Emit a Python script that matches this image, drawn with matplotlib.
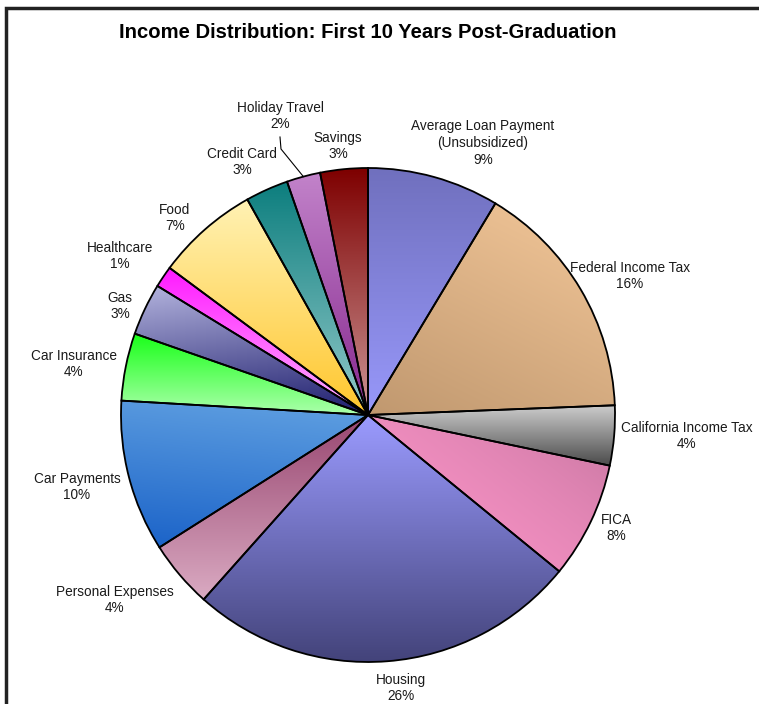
import numpy as np
import matplotlib
matplotlib.use("Agg")
import matplotlib.pyplot as plt
from matplotlib.colors import to_rgb
from matplotlib.patches import Rectangle

plt.rcParams['font.family'] = ['Liberation Sans', 'DejaVu Sans']

# ---------------- data ----------------
title = "Income Distribution: First 10 Years Post-Graduation"
categories = [
    "Average Loan Payment\n(Unsubsidized)", "Federal Income Tax", "California Income Tax",
    "FICA", "Housing", "Personal Expenses", "Car Payments", "Car Insurance", "Gas",
    "Healthcare", "Food", "Credit Card", "Holiday Travel", "Savings",
]
values = [8.6, 15.7, 3.9, 7.6, 25.6, 4.4, 9.9, 4.4, 3.4, 1.4, 6.7, 2.8, 2.2, 3.1]

# gradient colours (start, end, direction in degrees the gradient travels, ramp exponent)
grad_start = ["#7070BE", "#F4C89A", "#CDCDCD", "#B06A90", "#9B9BFF", "#984670", "#62A2E2",
              "#18FF18", "#B4B4DE", "#FF18FF", "#FFF2B4", "#0C7E7E", "#C283CA", "#7E0000"]
grad_end = ["#9898FA", "#C0986F", "#4A4A4A", "#FF96CA", "#43437A", "#DAAAC2", "#1A62C8",
            "#ACFFAC", "#1C1C6C", "#FFB4FF", "#FFC62C", "#94CACA", "#86288E", "#CC9696"]
grad_dir = [-90, -120, -90, -140, -90, -90, -100, -90, -80, -90, -90, -90, -90, -90]
grad_gamma = [1, 1, 1, 0.45, 1, 1, 1, 1, 1, 1, 1, 1, 1, 1]

# ---------------- layout ----------------
W, H = 759, 704
center = (368, H - 415)
radius = 247
label_pos = [(483, 143), (630, 276), (687, 436), (616, 528), (401, 688), (115, 600),
             (77, 487), (74, 364), (120, 306), (120, 256), (175, 218), (242, 162),
             (280, 116), (338, 146)]

fig = plt.figure(figsize=(W / 100, H / 100), dpi=100)
ax = fig.add_axes([0, 0, 1, 1])

wedges, _ = ax.pie(values, startangle=90, counterclock=False, center=center,
                   radius=radius, wedgeprops=dict(edgecolor="black", linewidth=1.3,
                                                  facecolor="none", zorder=3))
ax.set_xlim(0, W)
ax.set_ylim(0, H)
ax.set_aspect("equal")
ax.axis("off")

N = 200
uu, vv = np.meshgrid(np.linspace(0, 1, N), np.linspace(0, 1, N))
for w, c0, c1, d, g in zip(wedges, grad_start, grad_end, grad_dir, grad_gamma):
    w.set_facecolor("none")
    w.set_zorder(3)
    bb = w.get_path().get_extents()
    dx, dy = np.cos(np.radians(d)), np.sin(np.radians(d))
    proj = uu * dx + vv * dy
    t = ((proj - proj.min()) / (proj.max() - proj.min())) ** g
    a, b = np.array(to_rgb(c0)), np.array(to_rgb(c1))
    img = a[None, None, :] * (1 - t[..., None]) + b[None, None, :] * t[..., None]
    im = ax.imshow(img, extent=(bb.x0, bb.x1, bb.y0, bb.y1), origin="lower",
                   interpolation="bilinear", zorder=2, aspect="auto")
    im.set_clip_path(w)

total = sum(values)
for name, v, (x, y) in zip(categories, values, label_pos):
    ax.text(x, H - y, f"{name}\n{v / total * 100:.0f}%", ha="center", va="center",
            fontsize=9.8, color="#1a1a1a", linespacing=1.25, zorder=6)

# leader line for Holiday Travel
i = categories.index("Holiday Travel")
cum = np.cumsum([0] + values)
mid = np.radians(90 - (cum[i] + cum[i + 1]) / 2 / total * 360)
ex, ey = center[0] + radius * np.cos(mid), center[1] + radius * np.sin(mid)
ax.plot([280, 281, ex], [H - 137, H - 149, ey], color="black", lw=0.8, zorder=4)

ax.text(368, H - 32, title, ha="center", va="center", fontsize=14.6, fontweight="bold",
        color="black", zorder=6)

# chart frame
ax.add_patch(Rectangle((6, -20), W + 40, H - 8 + 20, fill=False, edgecolor="#222222",
                       linewidth=2.5, zorder=5, clip_on=False))

fig.savefig("out.png", dpi=100)
